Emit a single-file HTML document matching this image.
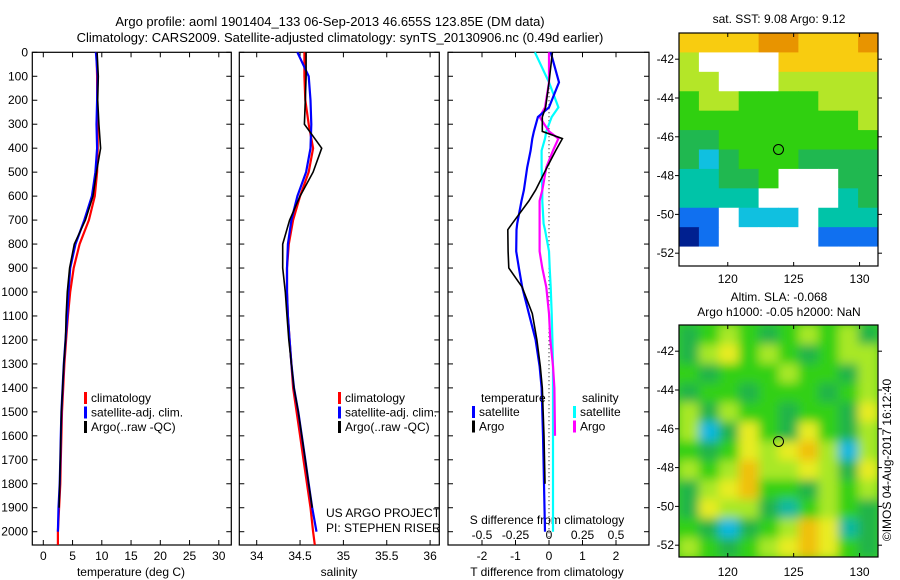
<!DOCTYPE html>
<html><head><meta charset="utf-8"><style>
body{margin:0;background:#fff}
svg{display:block;font-family:"Liberation Sans",sans-serif;font-size:12px}
</style></head><body>
<svg id="c" width="900" height="580" viewBox="0 0 900 580" xmlns="http://www.w3.org/2000/svg">
<defs>
<filter id="blur" x="-5%" y="-5%" width="110%" height="110%"><feGaussianBlur stdDeviation="5"/></filter>
<clipPath id="slaclip"><rect x="679" y="325" width="199" height="232"/></clipPath>
<clipPath id="sstclip"><rect x="679" y="33" width="199" height="233"/></clipPath>
</defs>
<text x="330" y="26" text-anchor="middle" font-size="13">Argo profile: aoml 1901404_133 06-Sep-2013 46.655S 123.85E (DM data)</text>
<text x="340" y="42" text-anchor="middle" font-size="13">Climatology: CARS2009. Satellite-adjusted climatology: synTS_20130906.nc (0.49d earlier)</text>
<text x="779" y="23" text-anchor="middle">sat. SST: 9.08 Argo: 9.12</text>
<text x="779" y="301" text-anchor="middle">Altim. SLA: -0.068</text>
<text x="779" y="316" text-anchor="middle">Argo h1000: -0.05 h2000: NaN</text>
<text transform="translate(891,460) rotate(-90)" text-anchor="middle">©IMOS 04-Aug-2017 16:12:40</text>
<text x="326" y="517">US ARGO PROJECT</text>
<text x="326" y="532">PI: STEPHEN RISER</text>
<g id="g"></g>
</svg>
<script>
const depths=[0,100,200,300,400,500,600,700,800,900,1000,1100,1200,1300,1400,1500,1600,1700,1800,1900,2000,2055];
const tempClim=[9.1,9.2,9.2,9.3,9.3,9.2,8.8,7.8,6.2,5.2,4.6,4.2,3.9,3.6,3.4,3.2,3.1,3.0,2.9,2.7,2.5,2.5];
const tempSat=[9.0,9.3,9.2,9.1,9.2,8.9,8.3,7.0,5.5,4.6,4.3,4.1,3.8,3.5,3.3,3.1,3.0,2.9,2.8,2.6,2.5,2.5];
const tempArgo=[9.2,9.4,9.3,9.5,9.8,9.1,8.5,7.2,5.3,4.5,4.1,3.9,3.8,3.5,3.3,3.1,3.0,2.9,2.8,2.7,2.6,2.6];
const salClim=[34.55,34.55,34.56,34.6,34.65,34.6,34.5,34.42,34.37,34.35,34.35,34.36,34.38,34.4,34.42,34.46,34.5,34.54,34.58,34.62,34.65,34.67];
const salSat=[34.47,34.6,34.62,34.63,34.62,34.57,34.47,34.4,34.36,34.35,34.35,34.36,34.38,34.4,34.43,34.48,34.52,34.56,34.6,34.64,34.69,34.69];
const salArgo=[34.57,34.57,34.56,34.55,34.75,34.65,34.5,34.38,34.3,34.3,34.33,34.35,34.37,34.4,34.43,34.48,34.52,34.56,34.6,34.64,34.67,34.67];
const diffDepths=[0,125,230,270,330,360,410,480,575,620,715,740,830,900,980,1090,1200,1310,1400,1600,1800,2000];
const tDiffSat=[0.05,0.3,0,-0.33,-0.45,-0.5,-0.55,-0.65,-0.75,-0.82,-0.95,-0.97,-0.98,-0.9,-0.8,-0.6,-0.4,-0.28,-0.22,-0.18,-0.15,-0.12];
const tDiffArgo=[0.1,0.0,-0.1,-0.2,-0.2,0.4,0.2,-0.06,-0.4,-0.6,-1.1,-1.23,-1.22,-1.2,-0.8,-0.5,-0.36,-0.26,-0.2,-0.15,-0.12,-0.1];
const sDiffSat=[-0.105,0.0,0.07,0.02,-0.02,-0.03,-0.055,-0.055,-0.05,-0.05,-0.04,-0.03,0.0,0.005,0.013,0.02,0.025,0.03,0.03,0.03,0.03,0.03];
const sDiffArgo=[0,0,-0.03,-0.07,0.0,0.07,0.03,-0.02,-0.05,-0.07,-0.07,-0.07,-0.07,-0.05,-0.02,0,0.01,0.03,0.04,0.045,0.045,0.045];
const depthTicks=[0,100,200,300,400,500,600,700,800,900,1000,1100,1200,1300,1400,1500,1600,1700,1800,1900,2000];
const tempTicks=[0,5,10,15,20,25,30];
const salTicks=[34,34.5,35,35.5,36];
const tDiffTicks=[-2,-1,0,1,2];
const sDiffTicks=[-0.5,-0.25,0,0.25,0.5];
const sDiffLabels=["-0.5","-0.25","0","0.25","0.5"];
const sstGrid=["YYYYOOYYYO","LWWWWYYYYY","LLWWWLLLLL","GLLGGGGLLL","GGGGGGGGGL","DDGGGGGGGG","DCDGGGDDDD","TTDDGWWWDD","TTTTWWWWTD","BBWCCCWTTT","NBWWWWWBBB","WWWWWWWWWW"];
const slaGrid=["DGLGDGLGLD","DLYGLGDGLL","GDGGGLGGDL","DGGDGGGDGL","LDLGGDGGDY","LCDYGDYGDL","GDGYLYOLCL","LGLOLLYLDY","DLYOGGDLGL","DYLLDTGLGD","GDCDGLOYTD","LGDGLYOYGD"];
const mapLonTicks=[120,125,130];
const mapLatTicks=[-42,-44,-46,-48,-50,-52];
const argoLon=123.85, argoLat=-46.655;

const NS="http://www.w3.org/2000/svg";
const G=document.getElementById('g');
function mk(t,a,p){const e=document.createElementNS(NS,t);for(const k in a)e.setAttribute(k,a[k]);(p||G).appendChild(e);return e;}
const Y0=52.3,KY=0.2397,YB=545;
const yD=d=>Y0+d*KY;
const xT=v=>43.3+v*5.85;
const xS=v=>256.7+(v-34)*86.7;
const xTd=v=>549+v*33.5;
const xSd=v=>549+v*134;
const panels=[[32.3,231.3],[239.3,439.3],[448,649]];
function line(xs,ds,xf,col,nm,w){
  const pts=xs.map((v,i)=>xf(v).toFixed(1)+','+yD(ds[i]).toFixed(1)).join(' ');
  const e=mk('polyline',{points:pts,fill:'none',stroke:col,'stroke-width':w||2.2});
  
  
}
panels.forEach((p,i)=>{
  const r=mk('rect',{x:p[0],y:Y0,width:p[1]-p[0],height:YB-Y0,fill:'none',stroke:'#000','stroke-width':1.2});
  
  
  depthTicks.forEach(d=>{
    mk('line',{x1:p[0],x2:p[0]+5,y1:yD(d),y2:yD(d),stroke:'#000'});
    mk('line',{x1:p[1]-5,x2:p[1],y1:yD(d),y2:yD(d),stroke:'#000'});
  });
});
depthTicks.forEach(d=>{
  const t=mk('text',{x:28,y:yD(d)+4,'text-anchor':'end'});t.textContent=d;
  
  
});
function xticks(ticks,labels,xf,p,y){
  ticks.forEach((v,i)=>{
    mk('line',{x1:xf(v),x2:xf(v),y1:YB-5,y2:YB,stroke:'#000'});
    mk('line',{x1:xf(v),x2:xf(v),y1:Y0,y2:Y0+5,stroke:'#000'});
    const t=mk('text',{x:xf(v),y:y,'text-anchor':'middle'});t.textContent=labels[i];
    
    
  });
}
xticks(tempTicks,tempTicks,xT,panels[0],560);
xticks(salTicks,salTicks,xS,panels[1],560);
xticks(tDiffTicks,tDiffTicks,xTd,panels[2],560);
sDiffTicks.forEach((v,i)=>{const t=mk('text',{x:xSd(v),y:539,'text-anchor':'middle'});t.textContent=sDiffLabels[i];
  
  });
[["temperature (deg C)",131],["salinity",339],["T difference from climatology",547]].forEach(a=>{
  const t=mk('text',{x:a[1],y:576,'text-anchor':'middle'});t.textContent=a[0];
  
  });
{const t=mk('text',{x:547,y:524,'text-anchor':'middle'});t.textContent="S difference from climatology";
 
 }
mk('line',{x1:549,x2:549,y1:Y0,y2:YB,stroke:'#000','stroke-dasharray':'1,3'});
line(tempClim,depths,xT,'#f00','temp-climatology-line');
line(tempSat,depths.slice(0,21),xT,'#00f','temp-satellite-line');
line(tempArgo.slice(0,20),depths.slice(0,20),xT,'#000','temp-argo-line',1.6);
line(salClim,depths,xS,'#f00','sal-climatology-line');
line(salSat.slice(0,21),depths.slice(0,21),xS,'#00f','sal-satellite-line');
line(salArgo.slice(0,20),depths.slice(0,20),xS,'#000','sal-argo-line',1.6);
line(sDiffSat,diffDepths,xSd,'#0ff','s-diff-satellite-line');
line(sDiffArgo.slice(0,20),diffDepths.slice(0,20),xSd,'#f0f','s-diff-argo-line');
line(tDiffSat,diffDepths,xTd,'#00f','t-diff-satellite-line');
line(tDiffArgo.slice(0,21),diffDepths.slice(0,21),xTd,'#000','t-diff-argo-line',1.6);
function legend(x,items,y0){
  items.forEach((it,i)=>{
    const y=y0+i*14.5;
    if(it[1])mk('rect',{x:x,y:y-10,width:3,height:12,fill:it[1]});
    const t=mk('text',{x:it[1]?x+7:x,y:y});t.textContent=it[0];
    
    
  });
}
const leg=[["climatology","#f00"],["satellite-adj. clim.","#00f"],["Argo(..raw -QC)","#000"]];
legend(84,leg,402);legend(338,leg,402);
legend(481,[["temperature",null]],402);legend(472,[["satellite","#00f"],["Argo","#000"]],416);
legend(582,[["salinity",null]],402);legend(573,[["satellite","#0ff"],["Argo","#f0f"]],416);
const COL={O:'#e89400',Y:'#f8cc10',L:'#b4e628',G:'#30d010',D:'#20b850',T:'#00c4a8',C:'#10c0e0',B:'#1070f0',N:'#002090',W:'#ffffff'};
const COL2={O:'#f0c010',Y:'#e8ec20',L:'#a8e828',G:'#30d018',D:'#20b448',T:'#10b8a0',C:'#10b8e0',B:'#1070f0',N:'#002090',W:'#ffffff'};
const MX0=679,MX1=878,LON0=116.3,LON1=131.4;
const xL=lon=>MX0+(lon-LON0)/(LON1-LON0)*(MX1-MX0);
function map(grid,top,bot,name,pal,blur,clip){
  const lat0=-40.65,yL=lat=>top+(lat0-lat)*19.4;
  const rows=grid.length,cols=grid[0].length,cw=(MX1-MX0)/cols,ch=(bot-top)/rows;
  const outer=mk('g',{'clip-path':'url(#'+clip+')'});
  const cells=mk('g',blur?{filter:'url(#blur)'}:{},outer);
  if(blur)mk('rect',{x:MX0-10,y:top-10,width:MX1-MX0+20,height:bot-top+20,fill:pal.G},cells);
  grid.forEach((row,r)=>{[...row].forEach((c,k)=>{
    mk('rect',{x:MX0+k*cw,y:top+r*ch,width:cw+0.5,height:ch+0.5,fill:pal[c]},cells);
  });});
  const b=mk('rect',{x:MX0,y:top,width:MX1-MX0,height:bot-top,fill:'none',stroke:'#000','stroke-width':1.2});
  
  
  mapLonTicks.forEach(l=>{
    mk('line',{x1:xL(l),x2:xL(l),y1:bot-4,y2:bot,stroke:'#000'});
    mk('line',{x1:xL(l),x2:xL(l),y1:top,y2:top+4,stroke:'#000'});
    const t=mk('text',{x:xL(l),y:bot+(blur?19:17),'text-anchor':'middle'});t.textContent=l;
    
    
  });
  mapLatTicks.forEach(l=>{
    mk('line',{x1:MX0-4,x2:MX0,y1:yL(l),y2:yL(l),stroke:'#000'});
    mk('line',{x1:MX1,x2:MX1+4,y1:yL(l),y2:yL(l),stroke:'#000'});
    const t=mk('text',{x:674,y:yL(l)+4,'text-anchor':'end'});t.textContent=l;
    
    
  });
  const c=mk('circle',{cx:xL(argoLon),cy:yL(argoLat),r:5,fill:'none',stroke:'#000'});
  
  
}
map(sstGrid,33,266,'sst-map',COL,false,'sstclip');
map(slaGrid,325,557,'sla-map',COL2,true,'slaclip');
</script>
</body></html>
